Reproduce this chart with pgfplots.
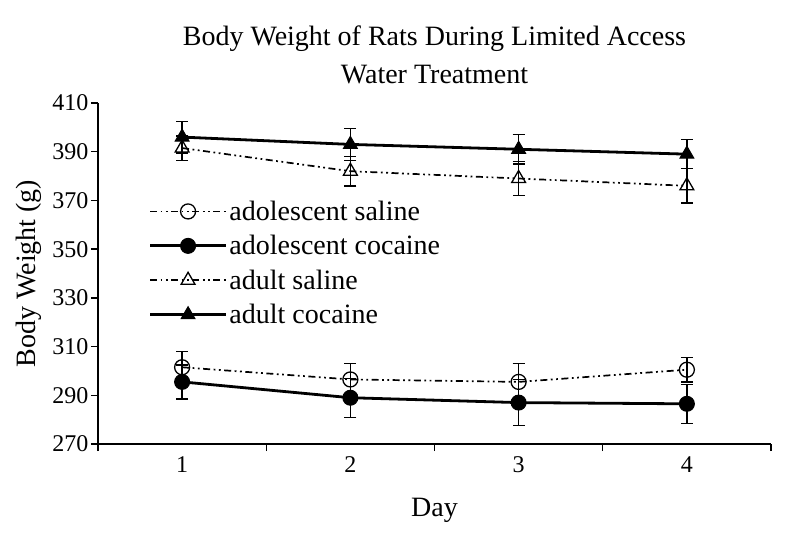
\documentclass[border=0pt]{standalone}
\usepackage{fontspec}
\setmainfont{Liberation Serif}
\usepackage{pgfplots}
\pgfplotsset{compat=1.18}
\begin{document}
\begin{tikzpicture}
\begin{axis}[
  scale only axis, width=673pt, height=341pt,
  xmin=0.5, xmax=4.5, ymin=270, ymax=410,
  axis lines=left, axis line style={-, line width=1.4pt},
  ytick={270,290,...,410},
  xtick={0.5,1.5,2.5,3.5,4.5}, xticklabels={},
  extra x ticks={1,2,3,4}, extra x tick labels={1,2,3,4},
  extra x tick style={major tick length=0pt},
  tick align=outside, major tick length=7pt,
  tick style={line width=1.4pt, black},
  /pgf/number format/assume math mode=true,
  ticklabel style={font=\fontsize{24}{28}\selectfont},
  yticklabel style={xshift=1pt},
  xticklabel style={yshift=-9pt},
  ylabel={Body Weight (g)}, xlabel={Day},
  label style={font=\fontsize{28}{32}\selectfont},
  ylabel style={yshift=4pt},
  xlabel style={yshift=-12pt},
  title={Body Weight of Rats During Limited Access\\Water Treatment},
  title style={align=center, font=\fontsize{28}{38}\selectfont, yshift=10pt},
  legend style={at={(0.075,0.725)}, anchor=north west, draw=none, fill=none,
    font=\fontsize{28}{32}\selectfont, row sep=9.5pt, inner xsep=0pt},
  legend cell align=left,
  legend image code/.code={\draw[mark repeat=2,mark phase=2] plot coordinates {(0pt,0pt) (38pt,0pt) (76pt,0pt)};},
  error bars/error bar style={solid, line width=1.4pt, black},
  error bars/error mark options={rotate=90, mark size=6pt, line width=1.4pt, black, solid},
]
% adolescent saline
\addplot[black, line width=1.7pt, dash pattern=on 7pt off 3.5pt on 1.8pt off 3.5pt on 1.8pt off 3.5pt,
  mark=o, mark size=7.5pt, mark options={solid, fill=white, line width=1.3pt},
  error bars/.cd, y dir=both, y explicit]
  coordinates {(1,301.5) +- (0,6.5) (2,296.5) +- (0,6.5) (3,295.5) +- (0,7.5) (4,300.5) +- (0,5)};
\addlegendentry{adolescent saline}
% adolescent cocaine
\addplot[black, line width=2.8pt, mark=*, mark size=7.5pt, mark options={solid, fill=black, line width=1pt},
  error bars/.cd, y dir=both, y explicit]
  coordinates {(1,295.5) +- (0,7) (2,289) +- (0,8) (3,287) +- (0,9.5) (4,286.5) +- (0,8)};
\addlegendentry{adolescent cocaine}
% adult saline
\addplot[black, line width=1.7pt, dash pattern=on 7pt off 3.5pt on 1.8pt off 3.5pt on 1.8pt off 3.5pt,
  mark=triangle, mark size=8pt, mark options={solid, fill=white, line width=1.3pt},
  error bars/.cd, y dir=both, y explicit]
  coordinates {(1,391.5) +- (0,5) (2,382) +- (0,6) (3,379) +- (0,7) (4,376) +- (0,7)};
\addlegendentry{adult saline}
% adult cocaine
\addplot[black, line width=2.8pt, mark=triangle*, mark size=8pt, mark options={solid, fill=black, line width=1pt},
  error bars/.cd, y dir=both, y explicit]
  coordinates {(1,396) +- (0,6.5) (2,393) +- (0,6.5) (3,391) +- (0,6) (4,389) +- (0,6)};
\addlegendentry{adult cocaine}
\end{axis}
\pgfresetboundingbox
\path ([shift={(-98pt,-92pt)}]current axis.south west) rectangle ([shift={(18pt,103pt)}]current axis.north east);
\end{tikzpicture}
\end{document}
